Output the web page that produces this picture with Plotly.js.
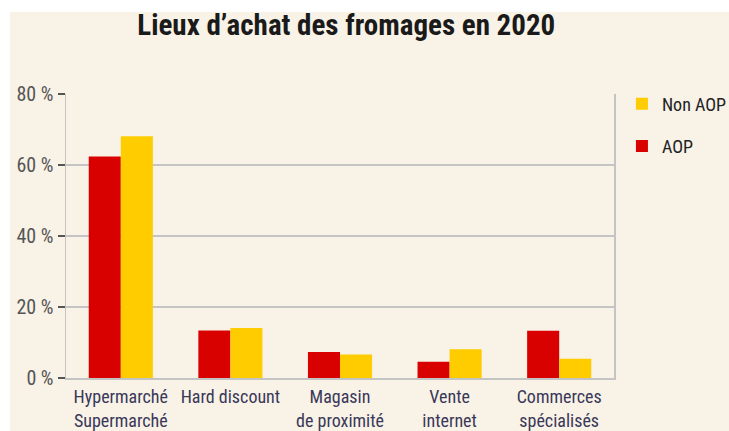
<!DOCTYPE html>
<html>
<head>
<meta charset="utf-8">
<script src="https://cdn.plot.ly/plotly-3.0.1.min.js"></script>
<style>html,body{margin:0;padding:0;background:#ffffff;}#chart{width:729px;height:431px;}</style>
</head>
<body>
<div id="chart"></div>
<script>
const categories = ["Hypermarché<br>Supermarché", "Hard discount", "Magasin<br>de proximité", "Vente<br>internet", "Commerces<br>spécialisés"];
const aop = [62.4, 13.4, 7.3, 4.6, 13.3];
const nonAop = [68.1, 14.1, 6.6, 8.1, 5.4];
const yTicks = [0, 20, 40, 60, 80];

const font = "'Roboto Condensed', 'Liberation Sans Narrow', 'Arial Narrow', sans-serif";
const cream = '#f8f2e7';

const traces = [
  {type: 'bar', name: 'AOP', x: categories, y: aop, marker: {color: '#d90000'}, legendgroup: 'a', legendrank: 2, hoverinfo: 'y'},
  {type: 'bar', name: 'Non AOP', x: categories, y: nonAop, marker: {color: '#ffcc00'}, legendgroup: 'b', legendrank: 1, hoverinfo: 'y'}
];

const layout = {
  width: 729, height: 431,
  paper_bgcolor: '#ffffff', plot_bgcolor: 'rgba(0,0,0,0)',
  margin: {l: 66, r: 115, t: 94, b: 53, autoexpand: false},
  title: {text: '<b>Lieux d’achat des fromages en 2020</b>', x: 0.475, xanchor: 'center', y: 0.943, yanchor: 'middle',
          font: {family: font, size: 29, color: '#1a1a1a'}},
  barmode: 'group', bargap: 0.415, bargroupgap: 0,
  showlegend: true,
  legend: {x: 1.0145, xanchor: 'left', y: 1.03, yanchor: 'top', traceorder: 'grouped', tracegroupgap: 16,
           font: {family: font, size: 18, color: '#222'}, bgcolor: 'rgba(0,0,0,0)'},
  shapes: [
    {type: 'rect', xref: 'paper', yref: 'paper', x0: -0.1022, x1: 1.215, y0: -0.19, y1: 1.2887,
     fillcolor: cream, line: {width: 0}, layer: 'below'}
  ],
  xaxis: {showline: true, linecolor: '#c4c4c4', linewidth: 1.5, ticks: '', showgrid: false, tickangle: 0,
          ticklabelstandoff: 2,
          tickfont: {family: font, size: 18, color: '#3a3858'}, fixedrange: true},
  yaxis: {range: [0, 80], tickvals: yTicks, ticktext: yTicks.map(v => v + ' %'),
          showline: true, linecolor: '#c4c4c4', linewidth: 1.5, mirror: true,
          ticks: 'outside', ticklen: 7, tickcolor: '#555', tickwidth: 1.5,
          gridcolor: '#c4c4c4', gridwidth: 1.5, zeroline: false,
          tickfont: {family: font, size: 20, color: '#555'}, fixedrange: true}
};

Plotly.newPlot('chart', traces, layout, {displayModeBar: false, staticPlot: true});
</script>
</body>
</html>
